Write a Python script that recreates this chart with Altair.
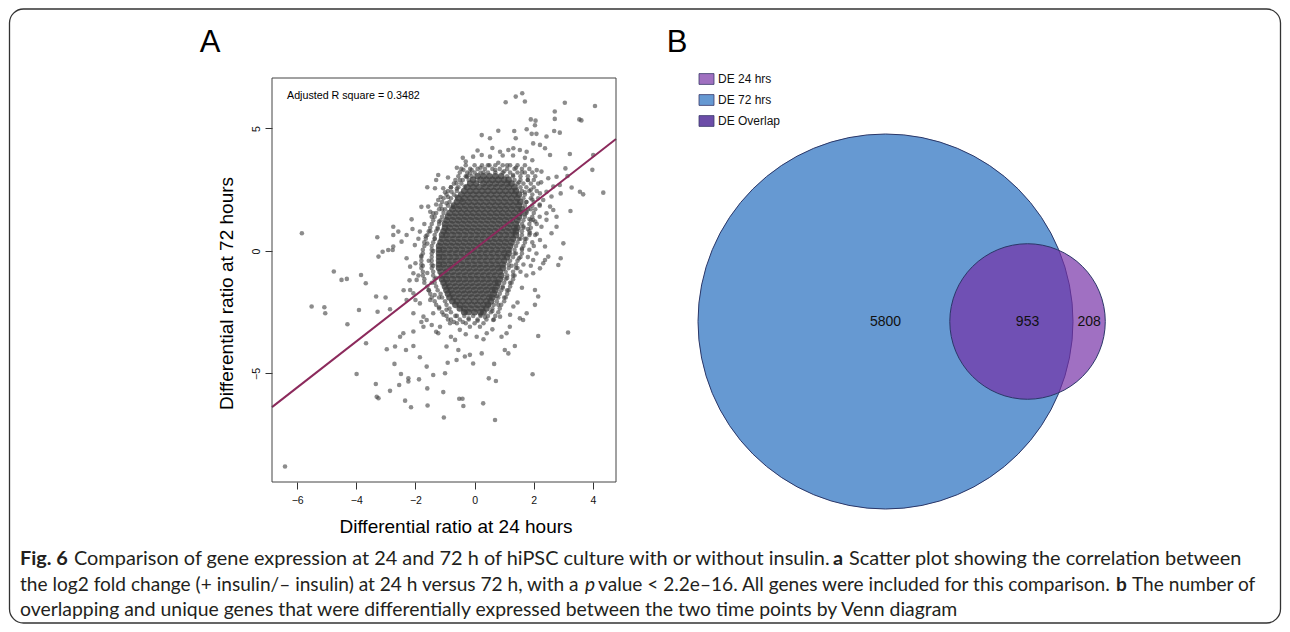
import math
import altair as alt
import pandas as pd

# ------------------------------------------------------------------
# Panel A: log2 fold change at 24 h (x) vs 72 h (y)
# ------------------------------------------------------------------
TOP_POINTS = [
    (1.61, 6.44), (1.39, 6.30), (1.05, 6.07), (1.70, 6.10), (3.05, 6.05), (4.07, 5.92),
    (1.90, 5.37), (2.06, 5.32), (2.04, 5.13), (2.71, 5.69), (2.71, 5.39), (3.54, 5.37),
    (3.61, 5.33), (2.69, 4.90), (2.88, 4.83), (1.34, 4.90), (0.80, 4.91), (0.24, 4.73),
    (0.52, 4.60), (1.39, 4.60), (1.76, 4.97), (1.93, 4.78), (2.09, 4.78), (2.43, 4.67),
]
RIGHT_POINTS = [
    (4.01, 3.92), (3.98, 3.31), (4.35, 2.38), (3.56, 2.42), (3.67, 2.31), (3.22, 3.96),
    (3.14, 3.06), (3.07, 3.37), (3.28, 2.59), (3.24, 1.63), (2.91, 2.35), (2.91, -0.30),
    (2.83, -0.57), (3.00, 0.31), (3.16, -3.33), (2.15, -3.47), (1.96, -5.03), (2.66, 1.67),
    (2.77, 1.40), (2.43, 1.27), (2.26, 0.99),
]
LEFT_POINTS = [
    (-5.84, 0.72), (-4.76, -0.84), (-4.50, -1.18), (-4.32, -1.14), (-3.84, -0.98),
    (-3.68, -1.32), (-5.51, -2.27), (-5.08, -2.30), (-5.05, -2.54), (-4.30, -2.99),
    (-3.91, -2.41), (-3.99, -5.02), (-3.67, -3.77), (-3.33, -1.86), (-3.01, -1.90),
    (-3.28, -2.48), (-2.86, -2.38), (-3.25, -0.23), (-3.11, -0.03), (-2.92, 0.04),
    (-2.77, 0.04), (-2.75, 0.18), (-3.29, 0.56), (-2.75, 0.99), (-2.75, 0.65),
    (-2.58, 0.79), (-2.13, 1.29), (-2.30, 0.65), (-2.47, 0.38), (-2.02, 0.24),
    (-1.85, 0.79), (-1.57, 1.81), (-1.40, 1.54), (-1.23, 3.10), (-1.34, 2.56),
    (-1.06, 2.56), (-1.23, 2.08), (-0.61, 2.76), (-6.41, -8.80),
]
BOTTOM_POINTS = [
    (-3.34, -5.43), (-3.31, -5.95), (-3.25, -6.01), (-2.86, -5.71), (-2.35, -6.11),
    (-2.15, -6.38), (-1.59, -6.31), (-1.04, -6.80), (-0.52, -6.03), (-0.41, -6.03),
    (-0.38, -6.33), (0.29, -6.22), (0.69, -6.90), (0.72, -5.31), (0.48, -5.20),
    (0.66, -4.61), (-1.06, -5.76), (-1.60, -5.61), (-1.88, -5.24), (-2.24, -5.33),
    (-2.49, -5.02), (-2.55, -5.47), (-2.24, -5.20), (-2.71, -4.61), (-2.97, -4.01),
    (-2.69, -3.90), (-2.32, -4.04), (-2.07, -3.88), (-1.85, -4.34), (-1.62, -4.72),
    (-1.40, -5.06), (-1.00, -4.99), (-0.91, -4.56), (-0.61, -4.45), (-0.33, -4.31),
    (-0.55, -4.04), (-0.16, -4.24), (-0.05, -4.59), (0.24, -4.18), (1.02, -4.04),
    (1.14, -4.18), (1.36, -3.88), (1.19, -3.09), (1.08, -3.36), (0.91, -3.50),
    (1.64, -2.82), (1.53, -2.75), (2.04, -2.20), (2.15, -1.86), (2.04, -1.59),
    (1.31, -2.27), (1.76, -2.54), (1.98, -0.91), (2.21, -0.71), (2.38, -0.37),
    (2.49, -0.23), (-2.41, -3.36), (-2.52, -3.50), (-2.07, -3.29), (-1.73, -3.09),
    (-1.45, -3.02), (-1.23, -3.36), (-0.95, -3.90), (-0.66, -3.63),
]
HALO_POINTS = [
    (-0.30, 3.65), (-0.05, 3.85), (0.24, 3.92), (0.52, 3.85), (0.86, 4.05), (1.14, 4.12),
    (1.31, 4.19), (1.53, 4.12), (1.76, 4.05), (1.98, 4.39), (2.21, 4.33), (2.38, 4.19),
    (2.55, 3.92), (2.26, 3.24), (2.49, 2.97), (2.77, 3.03), (2.66, 2.63), (2.88, 2.69),
    (2.43, 2.42), (2.60, 2.22), (2.21, 2.35), (2.32, 2.08), (2.55, 1.81), (2.43, 1.54),
    (2.77, 0.99), (2.60, 0.72), (2.21, 0.45), (2.38, 0.18), (2.09, -0.10), (1.98, -0.37),
    (2.32, -0.50), (1.87, 0.72), (1.98, 1.27), (1.76, 1.61), (-0.38, 3.31), (-0.16, 3.17),
    (-0.27, 3.03), (-0.33, 2.63), (-0.61, 2.22), (-0.78, 2.42), (-0.95, 1.95), (-0.72, 1.81),
    (-0.44, 2.08), (-2.18, -0.64), (-2.07, -0.91), (-1.96, -1.18), (-2.18, -1.59),
    (-2.07, -1.73), (-2.30, -2.00), (-1.85, -2.14), (-2.07, -2.54), (-1.73, -2.68),
    (-1.62, -2.82), (-1.40, -2.54), (-1.17, -3.09), (-0.83, -2.95), (-0.50, -3.22),
    (-0.16, -3.09), (0.07, -3.50), (0.18, -3.09), (0.41, -3.36), (0.63, -2.82), (0.86, -2.68),
    (-1.90, 0.50), (-1.70, 1.10), (-1.60, 0.30), (-1.50, 0.80), (-1.45, 1.40), (-1.30, 1.90),
    (-1.20, 1.20), (-1.15, 2.20), (-1.00, 2.40), (-1.80, -0.20), (-1.55, -0.40), (-1.60, -0.90),
    (-1.75, -0.60), (-1.40, 0.00), (-1.45, -1.30), (-1.90, -1.00), (-2.30, -0.30), (-2.00, -0.50),
    (-1.35, -1.80), (-1.50, -2.00), (-1.20, -2.30), (-1.05, -2.60), (-0.90, -2.80), (-0.70, -2.90),
    (-0.40, -2.90), (-0.20, -2.75), (0.10, -2.85), (0.35, -2.70), (0.60, -2.45), (0.80, -2.20),
    (1.00, -1.90), (1.10, -1.60), (1.20, -1.30), (1.30, -1.00), (1.45, -0.70), (1.50, -0.30),
    (1.60, 0.10), (1.70, 0.50), (1.80, 0.90), (1.85, 1.30), (1.90, 1.70), (1.95, 2.10),
    (1.90, 2.50), (1.80, 2.90), (1.60, 3.20), (1.40, 3.40), (1.10, 3.50), (0.80, 3.60),
    (0.50, 3.50), (0.20, 3.40), (-0.10, 3.30), (-0.50, 2.90), (-0.80, 2.60), (-1.60, 2.60),
    (-1.80, 1.80), (-2.10, 0.90), (-2.20, -1.20), (-2.40, -1.60), (-2.00, -2.00), (-1.80, -2.90),
    (-1.30, -3.30), (-0.80, -3.50), (-0.30, -3.40), (0.30, -3.60), (0.60, -3.20), (1.20, -2.60),
    (1.45, -2.10), (1.60, -1.50), (1.75, -1.00), (1.90, -0.60), (2.00, 0.20), (2.10, 0.70),
    (2.05, 1.20), (2.20, 1.90), (2.25, 2.80), (2.10, 3.30), (1.95, 3.70), (1.70, 3.80),
    (1.30, 3.90), (0.95, 3.90), (0.60, 4.20), (0.10, 4.10), (-0.40, 3.80), (-0.60, 3.40),
    (-0.90, 3.00), (-1.30, 2.90), (-1.65, 0.60), (-1.50, 1.60), (-1.35, 0.50), (-1.40, -0.60),
    (-1.30, -1.10), (-1.55, -1.60), (-1.20, -1.90), (-0.95, -2.40), (-0.60, -2.65), (-0.30, -2.50),
    (0.20, -2.60), (0.50, -2.20), (0.75, -1.85), (0.95, -1.50), (1.10, -1.10), (1.25, -0.60),
    (1.40, -0.10), (1.55, 0.50), (1.65, 1.00), (1.70, 1.50), (1.75, 2.00), (1.70, 2.40),
    (1.50, 2.80), (1.30, 3.10), (1.00, 3.25), (0.70, 3.30), (0.30, 3.20), (-0.25, 3.05),
    (-0.60, 2.55), (-0.90, 2.20), (-1.10, 1.70), (-1.25, 0.90),
]
# busy belt around the dense centre: 24 h values for each 72 h level
BELT_Y72 = [3.50, 3.35, 3.20, 3.05, 2.90, 2.75, 2.60, 2.45, 2.30, 2.15, 2.00, 1.85, 1.70,
            1.55, 1.40, 1.25, 1.10, 0.95, 0.80, 0.65, 0.50, 0.35, 0.20, 0.05, -0.10, -0.25,
            -0.40, -0.55, -0.70, -0.85, -1.00, -1.15, -1.30, -1.45, -1.60, -1.75, -1.90,
            -2.05, -2.20, -2.35, -2.50, -2.65, -2.80, -2.95]
BELT_X24 = [
    [-0.3, 0.0, 0.25, 0.45, 0.7, 0.95, 1.2, 1.45, 1.7],
    [-0.45, -0.15, 0.1, 0.35, 0.6, 0.85, 1.1, 1.35, 1.6, 1.85],
    [-0.5, -0.25, 0.0, 0.2, 0.45, 0.7, 0.95, 1.2, 1.45, 1.7, 1.95],
    [-0.55, -0.3, -0.1, 1.1, 1.3, 1.55, 1.8, 2.05],
    [-0.65, -0.4, -0.2, 1.35, 1.55, 1.8, 2.0],
    [-0.7, -0.45, 1.45, 1.65, 1.9, 2.15],
    [-0.8, -0.55, 1.55, 1.75, 2.0],
    [-0.9, -0.6, 1.6, 1.85, 2.1],
    [-0.95, -0.7, 1.7, 1.95],
    [-1.05, -0.8, 1.65, 1.9, 2.15],
    [-1.1, -0.85, 1.75, 2.0],
    [-1.15, -0.9, 1.7, 1.95, 2.2],
    [-1.2, -1.0, 1.8, 2.05],
    [-1.3, -1.05, 1.75, 2.0],
    [-1.35, -1.1, 1.7, 1.95, 2.2],
    [-1.4, -1.15, 1.65, 1.9],
    [-1.45, -1.2, 1.6, 1.85, 2.1],
    [-1.5, -1.25, 1.65, 1.9],
    [-1.55, -1.3, 1.6, 1.85],
    [-1.6, -1.35, 1.6, 1.85, 2.05],
    [-1.65, -1.35, 1.5, 1.75],
    [-1.7, -1.4, 1.45, 1.7, 1.95],
    [-1.7, -1.45, 1.4, 1.65],
    [-1.75, -1.45, 1.35, 1.6, 1.85],
    [-1.75, -1.45, 1.35, 1.6],
    [-1.8, -1.45, 1.3, 1.55, 1.8],
    [-1.8, -1.45, 1.2, 1.45],
    [-1.8, -1.45, 1.15, 1.4, 1.65],
    [-1.8, -1.45, 1.15, 1.4],
    [-1.75, -1.4, 1.05, 1.3, 1.55],
    [-1.75, -1.4, 1.1, 1.35],
    [-1.7, -1.35, 1.05, 1.3],
    [-1.7, -1.35, 1.0, 1.25],
    [-1.6, -1.3, 0.95, 1.2],
    [-1.55, -1.25, 0.9, 1.15],
    [-1.5, -1.15, 0.85, 1.1],
    [-1.45, -1.1, 0.8, 1.05],
    [-1.35, -1.0, 0.75, 1.0],
    [-1.3, -0.95, 0.65, 0.9],
    [-1.2, -0.85, 0.6, 0.85],
    [-1.1, -0.8, 0.55, 0.8],
    [-0.95, -0.65, -0.35, -0.05, 0.2, 0.45, 0.7],
    [-0.8, -0.5, -0.2, 0.1, 0.4, 0.65],
    [-0.6, -0.3, 0.0, 0.3],
]
# dense centre of the cloud: one row of 24 h values for each 72 h level
CORE_Y72 = [3.05, 2.90, 2.75, 2.60, 2.45, 2.30, 2.15, 2.00, 1.85, 1.70, 1.55, 1.40, 1.25,
            1.10, 0.95, 0.80, 0.65, 0.50, 0.35, 0.20, 0.05, -0.10, -0.25, -0.40, -0.55,
            -0.70, -0.85, -1.00, -1.15, -1.30, -1.45, -1.60, -1.75, -1.90, -2.05, -2.20,
            -2.35, -2.50]
CORE_X24 = [
    [0.1, 0.3, 0.5, 0.7, 0.9],
    [-0.05, 0.2, 0.4, 0.6, 0.8, 1.0, 1.15],
    [-0.15, 0.05, 0.3, 0.5, 0.7, 0.9, 1.1, 1.25],
    [-0.25, -0.05, 0.15, 0.35, 0.55, 0.75, 0.95, 1.15, 1.35],
    [-0.35, -0.15, 0.05, 0.25, 0.45, 0.65, 0.85, 1.05, 1.25, 1.4],
    [-0.45, -0.25, -0.05, 0.15, 0.35, 0.55, 0.75, 0.95, 1.15, 1.35, 1.5],
    [-0.55, -0.35, -0.15, 0.05, 0.25, 0.45, 0.65, 0.85, 1.05, 1.25, 1.45],
    [-0.6, -0.4, -0.2, 0.0, 0.2, 0.4, 0.6, 0.8, 1.0, 1.2, 1.4, 1.55],
    [-0.7, -0.5, -0.3, -0.1, 0.1, 0.3, 0.5, 0.7, 0.9, 1.1, 1.3, 1.5],
    [-0.75, -0.55, -0.35, -0.15, 0.05, 0.25, 0.45, 0.65, 0.85, 1.05, 1.25, 1.45, 1.6],
    [-0.85, -0.65, -0.45, -0.25, -0.05, 0.15, 0.35, 0.55, 0.75, 0.95, 1.15, 1.35, 1.55],
    [-0.9, -0.7, -0.5, -0.3, -0.1, 0.1, 0.3, 0.5, 0.7, 0.9, 1.1, 1.3, 1.5],
    [-0.95, -0.75, -0.55, -0.35, -0.15, 0.05, 0.25, 0.45, 0.65, 0.85, 1.05, 1.25, 1.45],
    [-1.0, -0.8, -0.6, -0.4, -0.2, 0.0, 0.2, 0.4, 0.6, 0.8, 1.0, 1.2, 1.4],
    [-1.0, -0.85, -0.65, -0.45, -0.25, -0.05, 0.15, 0.35, 0.55, 0.75, 0.95, 1.15, 1.35, 1.45],
    [-1.05, -0.9, -0.7, -0.5, -0.3, -0.1, 0.1, 0.3, 0.5, 0.7, 0.9, 1.1, 1.3, 1.4],
    [-1.1, -0.95, -0.75, -0.55, -0.35, -0.15, 0.05, 0.25, 0.45, 0.65, 0.85, 1.05, 1.25, 1.4],
    [-1.1, -0.9, -0.7, -0.5, -0.3, -0.1, 0.1, 0.3, 0.5, 0.7, 0.9, 1.1, 1.3],
    [-1.15, -0.95, -0.75, -0.55, -0.35, -0.15, 0.05, 0.25, 0.45, 0.65, 0.85, 1.05, 1.25],
    [-1.2, -1.0, -0.8, -0.6, -0.4, -0.2, 0.0, 0.2, 0.4, 0.6, 0.8, 1.0, 1.2],
    [-1.2, -1.05, -0.85, -0.65, -0.45, -0.25, -0.05, 0.15, 0.35, 0.55, 0.75, 0.95, 1.15],
    [-1.2, -1.0, -0.8, -0.6, -0.4, -0.2, 0.0, 0.2, 0.4, 0.6, 0.8, 1.0, 1.15],
    [-1.2, -1.05, -0.85, -0.65, -0.45, -0.25, -0.05, 0.15, 0.35, 0.55, 0.75, 0.95, 1.1],
    [-1.2, -1.0, -0.8, -0.6, -0.4, -0.2, 0.0, 0.2, 0.4, 0.6, 0.8, 1.0],
    [-1.2, -1.05, -0.85, -0.65, -0.45, -0.25, -0.05, 0.15, 0.35, 0.55, 0.75, 0.95],
    [-1.2, -1.0, -0.8, -0.6, -0.4, -0.2, 0.0, 0.2, 0.4, 0.6, 0.8, 0.95],
    [-1.15, -0.95, -0.75, -0.55, -0.35, -0.15, 0.05, 0.25, 0.45, 0.65, 0.85],
    [-1.1, -0.9, -0.7, -0.5, -0.3, -0.1, 0.1, 0.3, 0.5, 0.7, 0.9],
    [-1.1, -0.95, -0.75, -0.55, -0.35, -0.15, 0.05, 0.25, 0.45, 0.65, 0.85],
    [-1.05, -0.9, -0.7, -0.5, -0.3, -0.1, 0.1, 0.3, 0.5, 0.7, 0.8],
    [-1.0, -0.85, -0.65, -0.45, -0.25, -0.05, 0.15, 0.35, 0.55, 0.75],
    [-0.95, -0.8, -0.6, -0.4, -0.2, 0.0, 0.2, 0.4, 0.6, 0.7],
    [-0.9, -0.75, -0.55, -0.35, -0.15, 0.05, 0.25, 0.45, 0.65],
    [-0.85, -0.7, -0.5, -0.3, -0.1, 0.1, 0.3, 0.5, 0.6],
    [-0.75, -0.6, -0.4, -0.2, 0.0, 0.2, 0.4, 0.55],
    [-0.65, -0.5, -0.3, -0.1, 0.1, 0.3, 0.45],
    [-0.5, -0.35, -0.15, 0.05, 0.25, 0.4],
    [-0.35, -0.2, 0.0, 0.2, 0.3],
]
FIT_INTERCEPT = 0.073
FIT_SLOPE = 0.941
ADJ_R2_TEXT = "Adjusted R square = 0.3482"
X_TICKS = [-6, -4, -2, 0, 2, 4]
Y_TICKS = [-5, 0, 5]
X_DOMAIN = [-6.85, 4.78]
Y_DOMAIN = [-9.43, 7.06]

# ------------------------------------------------------------------
# Panel B: Venn counts
# ------------------------------------------------------------------
LEGEND_LABELS = ["DE 24 hrs", "DE 72 hrs", "DE Overlap"]
LEGEND_COLORS = ["#A070C0", "#6699D2", "#6C4DA8"]
ONLY_72 = 5800
OVERLAP = 953
ONLY_24 = 208

CAPTION_LINE1 = [("Fig. 6", "bold", "normal"),
                 ("Comparison of gene expression at 24 and 72 h of hiPSC culture with or without insulin.", "normal", "normal"),
                 ("a", "bold", "normal"),
                 ("Scatter plot showing the correlation between", "normal", "normal")]
CAPTION_LINE2 = [("the log2 fold change (+ insulin/– insulin) at 24 h versus 72 h, with a", "normal", "normal"),
                 ("p", "normal", "italic"),
                 ("value < 2.2e–16. All genes were included for this comparison.", "normal", "normal"),
                 ("b", "bold", "normal"),
                 ("The number of", "normal", "normal")]
CAPTION_LINE3 = [("overlapping and unique genes that were differentially expressed between the two time points by Venn diagram", "normal", "normal")]

# ------------------------------------------------------------------
# layout (chart coordinates = page minus the 8px margin)
# ------------------------------------------------------------------
W, H = 1274, 616
FR_L, FR_R, FR_T, FR_B = 264, 608, 70, 474
VENN_CX, VENN_CY, VENN_R72_PX = 877.5, 313.5, 187.5
CAP_X1 = [12, 66, 825, 841]
CAP_X2 = [12, 577, 590, 1108, 1124]
CAP_X3 = [12]
CAP_SIZES = [19.9, 19.1, 19.4]
CAP_Y = [551, 576.5, 602]
CAP_FONT = "Lato"
HELV = "Liberation Sans"

# ---------------- scatter ----------------
loose = []
for grp in (TOP_POINTS, RIGHT_POINTS, LEFT_POINTS, BOTTOM_POINTS, HALO_POINTS):
    loose.extend(grp)
for yv, xs in zip(BELT_Y72, BELT_X24):
    loose.extend((xv, yv) for xv in xs)
loose_df = pd.DataFrame(loose, columns=["x", "y"])
core = []
for yv, xs in zip(CORE_Y72, CORE_X24):
    core.extend((xv, yv) for xv in xs)
core_df = pd.DataFrame(core, columns=["x", "y"])

xsc = alt.Scale(domain=X_DOMAIN, range=[FR_L, FR_R], nice=False, zero=False)
ysc = alt.Scale(domain=Y_DOMAIN, range=[FR_B, FR_T], nice=False, zero=False)
x_axis = alt.Axis(values=X_TICKS, orient="bottom", offset=FR_B - H, domain=False, grid=False,
                  tickSize=7, tickColor="#333333", labelFont=HELV, labelFontSize=10.5,
                  labelColor="#111111", labelPadding=6, title=None, labelFlush=False)
y_axis = alt.Axis(values=Y_TICKS, orient="left", offset=-FR_L, domain=False, grid=False,
                  tickSize=7, tickColor="#333333", labelFont=HELV, labelFontSize=10.5,
                  labelColor="#111111", labelPadding=4, labelAngle=270, labelAlign="center",
                  labelBaseline="bottom", title=None, labelFlush=False)

core_pts = alt.Chart(core_df).mark_circle(size=44, color="#404040", opacity=0.8).encode(
    x=alt.X("x:Q", scale=xsc, axis=x_axis),
    y=alt.Y("y:Q", scale=ysc, axis=y_axis),
)
loose_pts = alt.Chart(loose_df).mark_circle(size=21, color="#404040", opacity=0.6).encode(
    x=alt.X("x:Q", scale=xsc, axis=x_axis),
    y=alt.Y("y:Q", scale=ysc, axis=y_axis),
)
fit_df = pd.DataFrame({"x": X_DOMAIN})
fit_df["y"] = FIT_INTERCEPT + FIT_SLOPE * fit_df["x"]
fit_line = alt.Chart(fit_df).mark_line(color="#8C2A5C", strokeWidth=2).encode(
    x=alt.X("x:Q", scale=xsc, axis=x_axis),
    y=alt.Y("y:Q", scale=ysc, axis=y_axis),
)
frame_df = pd.DataFrame({"x": [X_DOMAIN[0]], "x2": [X_DOMAIN[1]], "y": [Y_DOMAIN[0]], "y2": [Y_DOMAIN[1]]})
frame = alt.Chart(frame_df).mark_rect(fill=None, stroke="#444444", strokeWidth=1).encode(
    x=alt.X("x:Q", scale=xsc, axis=x_axis), x2="x2:Q",
    y=alt.Y("y:Q", scale=ysc, axis=y_axis), y2="y2:Q",
)
scatter = alt.layer(loose_pts, core_pts, fit_line, frame)

# ---------------- venn ----------------
n72 = ONLY_72 + OVERLAP
n24 = ONLY_24 + OVERLAP
r72 = math.sqrt(n72 / math.pi)
r24 = math.sqrt(n24 / math.pi)


def lens_area(a, b, d):
    if d >= a + b:
        return 0.0
    if d <= abs(a - b):
        return math.pi * min(a, b) ** 2
    t1 = a * a * math.acos((d * d + a * a - b * b) / (2 * d * a))
    t2 = b * b * math.acos((d * d + b * b - a * a) / (2 * d * b))
    t3 = 0.5 * math.sqrt((-d + a + b) * (d + a - b) * (d - a + b) * (d + a + b))
    return t1 + t2 - t3


lo, hi = abs(r72 - r24), r72 + r24
for _ in range(200):
    mid = (lo + hi) / 2
    if lens_area(r72, r24, mid) > OVERLAP:
        lo = mid
    else:
        hi = mid
dist = (lo + hi) / 2
k = VENN_R72_PX / r72

vx = alt.Scale(domain=[-r72, r72], range=[VENN_CX - VENN_R72_PX, VENN_CX + VENN_R72_PX], nice=False, zero=False)
vy = alt.Scale(domain=[-r72, r72], range=[VENN_CY + VENN_R72_PX, VENN_CY - VENN_R72_PX], nice=False, zero=False)

circ_df = pd.DataFrame({
    "vx": [0.0, dist], "vy": [0.0, 0.0],
    "size": [(2 * k * r72) ** 2, (2 * k * r24) ** 2],
    "fill": ["#6699D2", "#7530A6"],
    "fo": [1.0, 0.69],
})
circles = alt.Chart(circ_df).mark_circle(stroke="#2B3768", strokeWidth=1, strokeOpacity=1, opacity=1).encode(
    x=alt.X("vx:Q", scale=vx, axis=None),
    y=alt.Y("vy:Q", scale=vy, axis=None),
    size=alt.Size("size:Q", scale=None, legend=None),
    fill=alt.Fill("fill:N", scale=None, legend=None),
    fillOpacity=alt.FillOpacity("fo:Q", scale=None, legend=None),
)
lab_df = pd.DataFrame({
    "vx": [0.0, dist, (r72 + dist + r24) / 2],
    "vy": [0.0, 0.0, 0.0],
    "t": [str(ONLY_72), str(OVERLAP), str(ONLY_24)],
})
venn_labels = alt.Chart(lab_df).mark_text(font=HELV, fontSize=14, color="#111111", baseline="middle").encode(
    x=alt.X("vx:Q", scale=vx, axis=None),
    y=alt.Y("vy:Q", scale=vy, axis=None),
    text="t:N",
)
venn = alt.layer(circles, venn_labels)

# ---------------- legend ----------------
leg_df = pd.DataFrame({"label": LEGEND_LABELS, "color": LEGEND_COLORS})
leg_y = alt.Scale(domain=LEGEND_LABELS, range=[71, 113], padding=0)
swatches = alt.Chart(leg_df).mark_point(shape="M-1,-0.72H1V0.72H-1Z", filled=True, size=225,
                                        stroke="#3A3A6A", strokeWidth=0.8, opacity=1).encode(
    x=alt.value(698.5),
    y=alt.Y("label:N", scale=leg_y, axis=None),
    fill=alt.Fill("color:N", scale=None, legend=None),
)
leg_text = alt.Chart(leg_df).mark_text(font=HELV, fontSize=12, align="left", baseline="middle", color="#111111").encode(
    x=alt.value(710),
    y=alt.Y("label:N", scale=leg_y, axis=None),
    text="label:N",
)
legend = alt.layer(swatches, leg_text)


# ---------------- texts ----------------
def txt(s, x, y, size, font=HELV, weight="normal", style="normal", align="left",
        baseline="middle", angle=0, color="#000000"):
    return alt.Chart(pd.DataFrame({"t": [s]})).mark_text(
        font=font, fontSize=size, fontWeight=weight, fontStyle=style, align=align,
        baseline=baseline, angle=angle, color=color).encode(
        text="t:N", x=alt.value(x), y=alt.value(y))


texts = [
    txt("A", 202, 44, 31, align="center", baseline="alphabetic"),
    txt("B", 669, 44, 31, align="center", baseline="alphabetic"),
    txt(ADJ_R2_TEXT, 279, 88, 10.7),
    txt("Differential ratio at 72 hours", 219, 285.5, 19, align="center", angle=270),
    txt("Differential ratio at 24 hours", 448, 519, 19, align="center"),
]
for segs, xs, yy, fs in ((CAPTION_LINE1, CAP_X1, CAP_Y[0], CAP_SIZES[0]),
                         (CAPTION_LINE2, CAP_X2, CAP_Y[1], CAP_SIZES[1]),
                         (CAPTION_LINE3, CAP_X3, CAP_Y[2], CAP_SIZES[2])):
    for (s, wgt, sty), xx in zip(segs, xs):
        texts.append(txt(s, xx, yy, fs, font=CAP_FONT, weight=wgt, style=sty, color="#231F20"))

border = alt.Chart(pd.DataFrame({"d": [0]})).mark_rect(
    fill=None, stroke="#333333", strokeWidth=1.3, cornerRadius=14).encode(
    x=alt.value(1.5), x2=alt.value(1272.5), y=alt.value(1), y2=alt.value(615),
)

chart = alt.layer(border, scatter, venn, legend, *texts).resolve_scale(
    x="independent", y="independent"
).properties(
    width=W, height=H, padding=0, autosize=alt.AutoSizeParams(type="none"),
    background="white",
).configure_view(stroke=None)

chart.save("out.html", embed_options={"renderer": "svg", "actions": False})
